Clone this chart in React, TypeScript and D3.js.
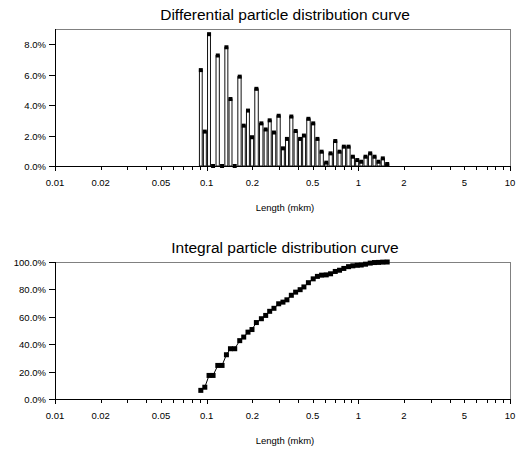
import React, { useEffect, useRef } from 'react';
import * as d3 from 'd3';

// particle size classes (mkm)
const sizes = [
  0.0915, 0.0972, 0.1037, 0.1102, 0.1184, 0.1263, 0.135, 0.1435, 0.1531, 0.1652,
  0.1755, 0.1873, 0.199, 0.2127, 0.2295, 0.245, 0.2603, 0.2778, 0.2984, 0.3184,
  0.3382, 0.3616, 0.386, 0.4133, 0.4377, 0.4686, 0.504, 0.5373, 0.5725, 0.6146,
  0.6561, 0.7046, 0.7518, 0.8025, 0.8619, 0.92, 0.9835, 1.045, 1.1153, 1.1975,
  1.2783, 1.3583, 1.45, 1.55,
];

// differential share per class, %
const diffPct = [
  6.3, 2.26, 8.66, 0, 7.26, 0, 7.8, 4.4, 0, 5.87,
  2.65, 3.64, 1.89, 5.07, 2.8, 2.4, 3.0, 2.2, 3.3, 1.16,
  1.78, 3.25, 2.3, 1.78, 2.0, 3.1, 2.8, 1.78, 0.94, 0.22,
  0.83, 1.64, 0.94, 1.27, 1.27, 0.61, 0.39, 0.28, 0.61, 0.83,
  0.61, 0.28, 0.5, 0.13,
];

// integral (cumulative) share, %
const intPct = [
  6.3, 8.6, 17.2, 17.2, 24.5, 24.5, 32.3, 36.7, 36.7, 42.6,
  45.2, 48.8, 50.7, 55.8, 58.6, 61.0, 64.0, 66.2, 69.5, 70.7,
  72.4, 75.7, 78.0, 79.8, 81.8, 84.9, 87.7, 89.5, 90.4, 90.6,
  91.4, 93.1, 94.0, 95.3, 96.6, 97.2, 97.6, 97.8, 98.4, 99.2,
  99.6, 99.7, 99.9, 100.0,
];

const xDomain = [0.01, 10];
const xLabels = [0.01, 0.02, 0.05, 0.1, 0.2, 0.5, 1, 2, 5, 10];
const diffYTicks = [0, 2, 4, 6, 8];
const intYTicks = [0, 20, 40, 60, 80, 100];

const FONT = '"Liberation Sans", Arial, sans-serif';

function drawPanel(svg, opts) {
  const { top, bottom, yMax, yTicks, title, kind } = opts;
  const left = 55, right = 510;
  const x = d3.scaleLog().domain(xDomain).range([left, right]);
  const y = d3.scaleLinear().domain([0, yMax]).range([bottom, top]);
  const g = svg.append('g');

  // plot area frame
  g.append('rect').attr('x', left).attr('y', top).attr('width', right - left).attr('height', bottom - top)
    .attr('fill', '#fff').attr('stroke', '#808080').attr('stroke-width', 1).attr('shape-rendering', 'crispEdges');

  if (kind === 'bars') {
    const px = sizes.map(d => x(d));
    const edges = px.map((p, i) => {
      const l = i > 0 ? (px[i - 1] + p) / 2 : p - (px[1] - px[0]) / 2;
      const r = i < px.length - 1 ? (p + px[i + 1]) / 2 : p + (p - px[i - 1]) / 2;
      return [l, r];
    });
    g.selectAll('rect.bar').data(diffPct).enter().append('rect').attr('class', 'bar')
      .attr('x', (d, i) => edges[i][0] + 0.6)
      .attr('width', (d, i) => edges[i][1] - edges[i][0] - 1.2)
      .attr('y', d => y(d))
      .attr('height', d => bottom - y(d))
      .attr('fill', '#fff').attr('stroke', '#111').attr('stroke-width', 1);
    g.selectAll('rect.mk').data(diffPct).enter().append('rect').attr('class', 'mk')
      .attr('x', (d, i) => px[i] - 2).attr('y', d => y(d) - 2)
      .attr('width', 4).attr('height', 4).attr('fill', '#000');
  } else {
    const line = d3.line().x((d, i) => x(sizes[i])).y(d => y(d));
    g.append('path').datum(intPct).attr('d', line).attr('fill', 'none').attr('stroke', '#000').attr('stroke-width', 1);
    g.selectAll('rect.mk').data(intPct).enter().append('rect').attr('class', 'mk')
      .attr('x', (d, i) => x(sizes[i]) - 2.5).attr('y', d => y(d) - 2.5)
      .attr('width', 5).attr('height', 5).attr('fill', '#000');
  }

  // axes lines
  g.append('line').attr('x1', left).attr('x2', right).attr('y1', bottom + 0.5).attr('y2', bottom + 0.5).attr('stroke', '#000');
  g.append('line').attr('x1', left + 0.5).attr('x2', left + 0.5).attr('y1', top).attr('y2', bottom).attr('stroke', '#000');

  // x ticks (log minor + major)
  x.ticks().forEach(t => {
    const major = Math.abs(Math.log10(t) - Math.round(Math.log10(t))) < 1e-9;
    const xx = Math.round(x(t)) + 0.5;
    g.append('line').attr('x1', xx).attr('x2', xx).attr('y1', bottom).attr('y2', bottom + (major ? 5 : 4)).attr('stroke', '#000');
  });
  g.selectAll('text.xl').data(xLabels).enter().append('text').attr('class', 'xl')
    .attr('x', d => x(d)).attr('y', bottom + 20).attr('text-anchor', 'middle')
    .attr('font-family', FONT).attr('font-size', 9.5).attr('fill', '#000').text(d => String(d));

  // y ticks
  yTicks.forEach(t => {
    const yy = Math.round(y(t)) + 0.5;
    g.append('line').attr('x1', left - 6).attr('x2', left).attr('y1', yy).attr('y2', yy).attr('stroke', '#000');
    g.append('text').attr('x', left - 9).attr('y', yy + 3.5).attr('text-anchor', 'end')
      .attr('font-family', FONT).attr('font-size', 9.5).attr('fill', '#000').text(d3.format('.1f')(t) + '%');
  });

  g.append('text').attr('x', 285).attr('y', top - 9).attr('text-anchor', 'middle')
    .attr('font-family', FONT).attr('font-size', 15.5).attr('fill', '#000').text(title);
  g.append('text').attr('x', 285).attr('y', bottom + 45).attr('text-anchor', 'middle')
    .attr('font-family', FONT).attr('font-size', 9.5).attr('fill', '#000').text('Length (mkm)');
}

export default function App() {
  const ref = useRef(null);
  useEffect(() => {
    const el = ref.current;
    if (!el) return;
    const svg = d3.select(el);
    svg.selectAll('*').remove();
    svg.append('rect').attr('width', 524).attr('height', 450).attr('fill', '#fff');
    drawPanel(svg, { top: 29, bottom: 166, yMax: 9, yTicks: diffYTicks, title: 'Differential particle distribution curve', kind: 'bars' });
    drawPanel(svg, { top: 262, bottom: 399, yMax: 100, yTicks: intYTicks, title: 'Integral particle distribution curve', kind: 'line' });
  }, []);
  return (
    <svg ref={ref} width={524} height={450} style={{ position: 'absolute', left: 0, top: 0, display: 'block' }} />
  );
}
